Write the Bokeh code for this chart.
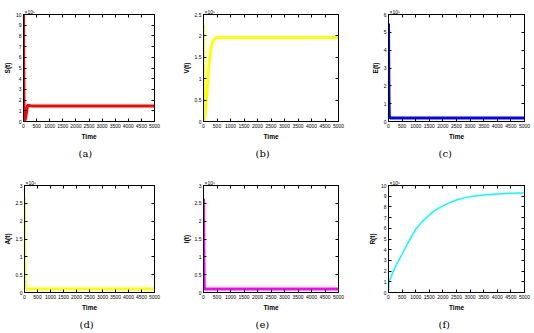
from bokeh.plotting import figure
from bokeh.layouts import row, column
from bokeh.models import LinearAxis, FixedTicker, Title, Range1d
from bokeh.embed import file_html
from bokeh.resources import INLINE

# ---------------- data ----------------
time_ticks = [0, 500, 1000, 1500, 2000, 2500, 3000, 3500, 4000, 4500, 5000]
time_labels = ["0", "500", "1000", "1500", "2000", "2500", "3000", "3500", "4000", "4500", "5000"]

t_S = [0, 10, 20, 40, 70, 110, 150, 200, 300, 1000, 2000, 3000, 4000, 5000]
S = [10, 5, 1.0, 0.1, 0.2, 0.8, 1.5, 1.5, 1.46, 1.45, 1.45, 1.45, 1.45, 1.45]

t_V = [0, 10, 25, 60, 100, 150, 200, 265, 320, 380, 450, 500, 700, 1000, 3000, 5000]
V = [2.25, 1.2, 0.02, 0.15, 0.45, 0.85, 1.3, 1.66, 1.82, 1.91, 1.95, 1.96, 1.96, 1.96, 1.96, 1.96]

t_E = [0, 10, 20, 30, 60, 1000, 3000, 5000]
E = [5.5, 3.0, 1.0, 0.3, 0.2, 0.2, 0.2, 0.2]

t_A = [0, 10, 20, 30, 60, 1000, 3000, 5000]
A = [2.65, 1.4, 0.5, 0.15, 0.1, 0.1, 0.1, 0.1]

t_I = [0, 10, 20, 30, 60, 1000, 3000, 5000]
I = [2.63, 1.4, 0.5, 0.15, 0.1, 0.1, 0.1, 0.1]

t_R = [0, 20, 100, 250, 500, 750, 1000, 1250, 1500, 1750, 2000, 2250, 2500,
       2750, 3000, 3250, 3500, 4000, 4500, 5000]
R = [0.0, 1.0, 1.5, 2.4, 3.6, 4.8, 5.9, 6.65, 7.25, 7.75, 8.1, 8.4, 8.65,
     8.82, 8.96, 9.05, 9.12, 9.21, 9.27, 9.3]

ticks_10 = [0, 1, 2, 3, 4, 5, 6, 7, 8, 9, 10]
labels_10 = ["0", "1", "2", "3", "4", "5", "6", "7", "8", "9", "10"]
ticks_25 = [0, 0.5, 1, 1.5, 2, 2.5]
labels_25 = ["0", "0.5", "1", "1.5", "2", "2.5"]
ticks_6 = [0, 1, 2, 3, 4, 5, 6]
labels_6 = ["0", "1", "2", "3", "4", "5", "6"]
ticks_3 = [0, 0.5, 1, 1.5, 2, 2.5, 3]
labels_3 = ["0", "0.5", "1", "1.5", "2", "2.5", "3"]

exponent_text = "\u00d710\u2075"
x_label = "Time"

SANS = "Liberation Sans"
SERIF = "DejaVu Serif"


def style_axis(ax, ticks, labels, show_labels=True):
    ax.ticker = FixedTicker(ticks=ticks)
    ax.major_tick_in = 3
    ax.major_tick_out = 0
    ax.minor_tick_line_color = None
    ax.major_tick_line_color = "black"
    ax.axis_line_color = "black"
    if show_labels:
        ax.major_label_overrides = {tk: lb for tk, lb in zip(ticks, labels)}
        ax.major_label_text_font = SANS
        ax.major_label_text_font_size = "5px"
        ax.major_label_text_color = "black"
        ax.major_label_standoff = 2
    else:
        ax.major_label_text_color = None
        ax.major_label_text_font_size = "1px"
        ax.major_label_standoff = 0
    ax.axis_label_text_font = SANS
    ax.axis_label_text_font_size = "6.5px"
    ax.axis_label_text_font_style = "bold"
    ax.axis_label_text_color = "black"
    ax.axis_label_standoff = 2


def panel(t, y, color, lw, ymax, yticks, ylabels, ylabel, caption,
          width, height, bl, br, bt, bb, cap_offset):
    p = figure(width=width, height=height, output_backend="svg", toolbar_location=None,
               x_range=Range1d(0, 5000), y_range=Range1d(0, ymax),
               min_border_left=bl, min_border_right=br,
               min_border_top=bt, min_border_bottom=bb)
    p.line(t, y, line_color=color, line_width=lw)
    p.grid.visible = False
    p.outline_line_color = "black"
    p.outline_line_width = 1
    p.background_fill_color = "white"
    p.border_fill_color = "white"

    style_axis(p.xaxis[0], time_ticks, time_labels)
    p.xaxis[0].axis_label = x_label
    style_axis(p.yaxis[0], yticks, ylabels)
    p.yaxis[0].axis_label = ylabel

    ax_top = LinearAxis()
    style_axis(ax_top, time_ticks, time_labels, show_labels=False)
    p.add_layout(ax_top, "above")
    ax_right = LinearAxis()
    style_axis(ax_right, yticks, ylabels, show_labels=False)
    p.add_layout(ax_right, "right")

    p.add_layout(Title(text=exponent_text, align="left", offset=1, standoff=0,
                       text_font=SANS, text_font_size="5px", text_font_style="normal",
                       text_color="black"),
                 "above")
    p.add_layout(Title(text=caption, align="left", offset=cap_offset, standoff=7,
                       text_font=SERIF, text_font_size="10px", text_font_style="normal",
                       text_color="black"),
                 "below")
    return p


pa = panel(t_S, S, "#ff0000", 3, 10, ticks_10, labels_10, "S(t)", "(a)",
           178, 165, 19, 24, 14, 44, 55)
pb = panel(t_V, V, "#ffff00", 3, 2.5, ticks_25, labels_25, "V(t)", "(b)",
           178, 165, 25, 18, 14, 44, 52)
pc = panel(t_E, E, "#0000ff", 3, 6, ticks_6, labels_6, "E(t)", "(c)",
           178, 165, 32, 10, 14, 44, 50)
pd = panel(t_A, A, "#ffff00", 3, 3, ticks_3, labels_3, "A(t)", "(d)",
           178, 168, 19, 24, 20, 41, 55)
pe = panel(t_I, I, "#ff00ff", 3, 3, ticks_3, labels_3, "I(t)", "(e)",
           178, 168, 25, 18, 20, 41, 52)
pf = panel(t_R, R, "#00ffff", 1.5, 10, ticks_10, labels_10, "R(t)", "(f)",
           178, 168, 32, 10, 20, 41, 50)

layout = column(row(pa, pb, pc, spacing=0), row(pd, pe, pf, spacing=0), spacing=0)

open("out.html", "w").write(file_html(layout, INLINE))
